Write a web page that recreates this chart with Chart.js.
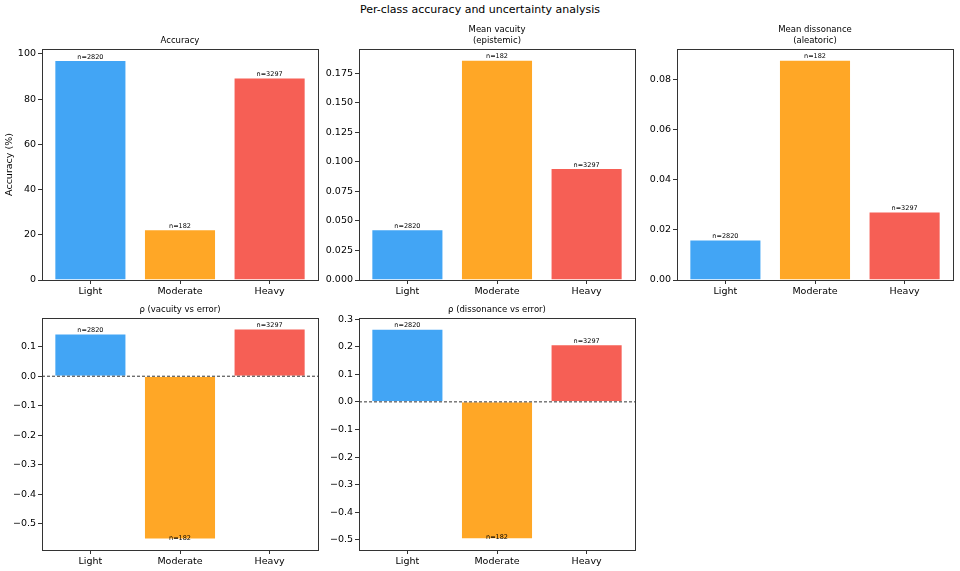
<!DOCTYPE html>
<html>
<head>
<meta charset="utf-8">
<script src="https://cdn.jsdelivr.net/npm/chart.js@4.4.1/dist/chart.umd.min.js"></script>
<style>
    html, body { margin: 0; padding: 0; background: #fff; }
    body { width: 960px; height: 571px; position: relative; overflow: hidden; font-family: 'DejaVu Sans', sans-serif; }
    #suptitle { position: absolute; left: 0; top: 3px; width: 960px; text-align: center; font-size: 11px; color: #000; }
    canvas { position: absolute; }
</style>
</head>
<body>
<div id="suptitle">Per-class accuracy and uncertainty analysis</div>
<canvas id="c1"></canvas>
<canvas id="c2"></canvas>
<canvas id="c3"></canvas>
<canvas id="c4"></canvas>
<canvas id="c5"></canvas>
<script>
// --- Data ---
const categories = ['Light', 'Moderate', 'Heavy'];
const counts = [2820, 182, 3297];
const accuracy = [97.3, 22.4, 89.5];
const meanVacuity = [0.0429, 0.1863, 0.0946];
const meanDissonance = [0.0161, 0.0877, 0.0272];
const rhoVacuity = [0.144, -0.552, 0.161];
const rhoDissonance = [0.264, -0.497, 0.208];

const accuracyTicks = [0, 20, 40, 60, 80, 100];
const vacuityTicks = [0, 0.025, 0.05, 0.075, 0.1, 0.125, 0.15, 0.175];
const dissonanceTicks = [0, 0.02, 0.04, 0.06, 0.08];
const rhoVacuityTicks = [-0.5, -0.4, -0.3, -0.2, -0.1, 0, 0.1];
const rhoDissonanceTicks = [-0.5, -0.4, -0.3, -0.2, -0.1, 0, 0.1, 0.2, 0.3];

const barColors = ['#42A5F5', '#FFA726', '#F65F55'];

// --- Layout helpers ---
const X_AXIS_H = 22;
const PAD_TOP = 34;
const PAD_RIGHT = 4;

// frame + zero line + n= labels + subplot title
const framePlugin = {
    id: 'frame',
    afterDatasetsDraw(chart, args, opts) {
        const { ctx, chartArea: a } = chart;
        ctx.save();
        if (opts.zeroLine) {
            const y0 = chart.scales.y.getPixelForValue(0);
            ctx.strokeStyle = '#000';
            ctx.lineWidth = 0.8;
            ctx.setLineDash([3, 2]);
            ctx.beginPath();
            ctx.moveTo(a.left, y0);
            ctx.lineTo(a.right, y0);
            ctx.stroke();
            ctx.setLineDash([]);
        }
        // n= annotations
        const meta = chart.getDatasetMeta(0);
        ctx.fillStyle = '#000';
        ctx.font = '6.5px "DejaVu Sans"';
        ctx.textAlign = 'center';
        ctx.textBaseline = 'bottom';
        meta.data.forEach((bar, i) => {
            const v = chart.data.datasets[0].data[i].y;
            const y = v >= 0 ? bar.y : bar.y + 2;
            ctx.fillText('n=' + counts[i], bar.x, y);
        });
        // axes box
        ctx.strokeStyle = '#333';
        ctx.lineWidth = 1;
        ctx.strokeRect(Math.round(a.left) + 0.5, Math.round(a.top) + 0.5,
            Math.round(a.right - a.left), Math.round(a.bottom - a.top));
        // subplot title
        ctx.fillStyle = '#000';
        ctx.font = '8.5px "DejaVu Sans"';
        ctx.textBaseline = 'alphabetic';
        const lines = opts.title;
        const cx = (a.left + a.right) / 2;
        for (let i = 0; i < lines.length; i++) {
            ctx.fillText(lines[i], cx, a.top - 6 - (lines.length - 1 - i) * 11);
        }
        ctx.restore();
    }
};

function makePanel(id, box, yAxisW, values, yMin, yMax, ticks, decimals, title, yLabel, zeroLine) {
    const canvas = document.getElementById(id);
    const left = box.left - yAxisW;
    const top = box.top - PAD_TOP;
    const w = box.width + yAxisW + PAD_RIGHT;
    const h = box.height + PAD_TOP + X_AXIS_H;
    canvas.style.left = left + 'px';
    canvas.style.top = top + 'px';
    canvas.style.width = w + 'px';
    canvas.style.height = h + 'px';
    canvas.width = w;
    canvas.height = h;

    const fmt = v => {
        const s = v.toFixed(decimals);
        return v < 0 ? '\u2212' + s.slice(1) : s;
    };

    return new Chart(canvas.getContext('2d'), {
        type: 'bar',
        data: {
            datasets: [{
                data: values.map((v, i) => ({ x: i, y: v })),
                backgroundColor: barColors,
                borderColor: 'rgba(255,255,255,0.6)',
                borderWidth: 0.8,
                categoryPercentage: 1,
                barPercentage: 0.8
            }]
        },
        options: {
            responsive: false,
            animation: false,
            devicePixelRatio: 1,
            layout: { padding: { top: PAD_TOP, right: PAD_RIGHT, left: 0, bottom: 0 } },
            plugins: {
                legend: { display: false },
                tooltip: { enabled: false },
                frame: { title: title, zeroLine: zeroLine }
            },
            scales: {
                x: {
                    type: 'linear',
                    min: -0.54,
                    max: 2.54,
                    offset: false,
                    afterBuildTicks: s => { s.ticks = categories.map((c, i) => ({ value: i })); },
                    afterFit: s => { s.height = X_AXIS_H; },
                    ticks: {
                        callback: v => categories[v],
                        color: '#000',
                        font: { family: 'DejaVu Sans', size: 9.5 },
                        padding: 2,
                        maxRotation: 0,
                        autoSkip: false
                    },
                    grid: { offset: false, drawOnChartArea: false, drawTicks: true, tickLength: 4, color: '#333' },
                    border: { display: false }
                },
                y: {
                    min: yMin,
                    max: yMax,
                    afterBuildTicks: s => { s.ticks = ticks.map(v => ({ value: v })); },
                    afterFit: s => { s.width = yAxisW; },
                    ticks: {
                        callback: v => fmt(v),
                        color: '#000',
                        font: { family: 'DejaVu Sans', size: 9.5 },
                        padding: 2,
                        autoSkip: false
                    },
                    title: {
                        display: !!yLabel,
                        text: yLabel || '',
                        color: '#000',
                        font: { family: 'DejaVu Sans', size: 9.5 },
                        padding: { top: 4, bottom: 0 }
                    },
                    grid: { offset: false, drawOnChartArea: false, drawTicks: true, tickLength: 4, color: '#333' },
                    border: { display: false }
                }
            }
        },
        plugins: [framePlugin]
    });
}

const topRow = { top: 49, height: 231 };
const botRow = { top: 318, height: 232 };
const cols = [42, 359, 677];
const colW = 276;

makePanel('c1', { left: cols[0], top: topRow.top, width: colW, height: topRow.height }, 42,
    accuracy, 0, 102.2, accuracyTicks, 0, ['Accuracy'], 'Accuracy (%)', false);
makePanel('c2', { left: cols[1], top: topRow.top, width: colW, height: topRow.height }, 45,
    meanVacuity, 0, 0.1956, vacuityTicks, 3, ['Mean vacuity', '(epistemic)'], null, false);
makePanel('c3', { left: cols[2], top: topRow.top, width: colW, height: topRow.height }, 45,
    meanDissonance, 0, 0.0921, dissonanceTicks, 2, ['Mean dissonance', '(aleatoric)'], null, false);
makePanel('c4', { left: cols[0], top: botRow.top, width: colW, height: botRow.height }, 42,
    rhoVacuity, -0.588, 0.197, rhoVacuityTicks, 1, ['\u03c1 (vacuity vs error)'], null, true);
makePanel('c5', { left: cols[1], top: botRow.top, width: colW, height: botRow.height }, 45,
    rhoDissonance, -0.537, 0.304, rhoDissonanceTicks, 1, ['\u03c1 (dissonance vs error)'], null, true);
</script>
</body>
</html>
